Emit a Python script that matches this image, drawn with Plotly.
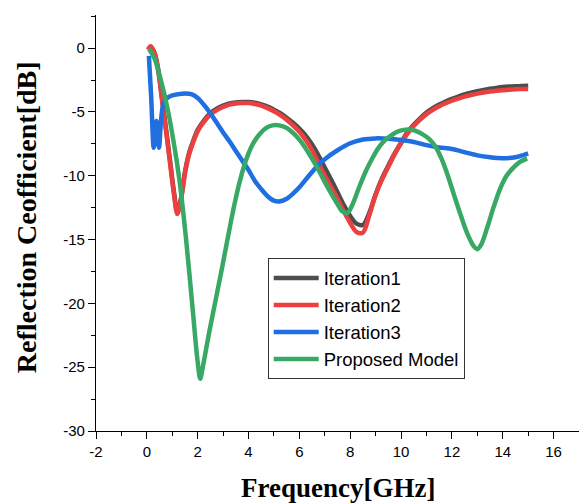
import plotly.graph_objects as go

# ---- data ----
x_it1 = [0.05, 0.15, 0.3, 0.45, 0.6, 0.75, 0.9, 1.05, 1.2, 1.35, 1.5, 1.65, 1.8, 2.0, 2.25, 2.5, 2.75, 3.0, 3.25, 3.5, 3.75, 4.0, 4.25, 4.5, 4.75, 5.0, 5.25, 5.5, 5.75, 6.0, 6.25, 6.5, 6.75, 7.0, 7.25, 7.5, 7.75, 8.0, 8.25, 8.5, 8.75, 9.0, 9.25, 9.5, 9.75, 10.0, 10.25, 10.5, 10.75, 11.0, 11.25, 11.5, 11.75, 12.0, 12.25, 12.5, 12.75, 13.0, 13.25, 13.5, 13.75, 14.0, 14.25, 14.5, 14.75, 15.0]
y_it1 = [-0.1, 0.1, -0.35, -1.7, -3.95, -6.25, -8.6, -11.0, -12.8, -11.7, -9.7, -8.3, -7.4, -6.4, -5.65, -5.1, -4.75, -4.5, -4.33, -4.25, -4.22, -4.22, -4.28, -4.4, -4.58, -4.82, -5.1, -5.45, -5.85, -6.3, -6.85, -7.55, -8.4, -9.35, -10.3, -11.3, -12.3, -13.15, -13.75, -13.85, -12.9, -11.45, -10.2, -9.2, -8.25, -7.4, -6.6, -6.0, -5.5, -5.05, -4.7, -4.42, -4.18, -3.97, -3.79, -3.63, -3.49, -3.37, -3.27, -3.18, -3.11, -3.05, -3.01, -2.98, -2.96, -2.95]

x_it2 = [0.05, 0.15, 0.3, 0.45, 0.6, 0.75, 0.9, 1.05, 1.2, 1.35, 1.5, 1.65, 1.8, 2.0, 2.25, 2.5, 2.75, 3.0, 3.25, 3.5, 3.75, 4.0, 4.25, 4.5, 4.75, 5.0, 5.25, 5.5, 5.75, 6.0, 6.25, 6.5, 6.75, 7.0, 7.25, 7.5, 7.75, 8.0, 8.25, 8.5, 8.75, 9.0, 9.25, 9.5, 9.75, 10.0, 10.25, 10.5, 10.75, 11.0, 11.25, 11.5, 11.75, 12.0, 12.25, 12.5, 12.75, 13.0, 13.25, 13.5, 13.75, 14.0, 14.25, 14.5, 14.75, 15.0]
y_it2 = [-0.1, 0.15, -0.4, -1.8, -4.1, -6.4, -8.8, -11.2, -13.0, -11.8, -9.8, -8.4, -7.5, -6.5, -5.75, -5.2, -4.85, -4.6, -4.42, -4.33, -4.3, -4.3, -4.38, -4.5, -4.7, -4.95, -5.25, -5.6, -6.05, -6.55, -7.2, -8.0, -9.0, -10.0, -10.9, -11.8, -12.8, -13.7, -14.4, -14.45, -13.1, -11.5, -10.3, -9.3, -8.3, -7.45, -6.7, -6.1, -5.6, -5.17, -4.83, -4.55, -4.32, -4.12, -3.95, -3.8, -3.67, -3.56, -3.47, -3.4, -3.34, -3.29, -3.25, -3.22, -3.2, -3.2]

x_it3 = [0.08, 0.17, 0.27, 0.33, 0.38, 0.43, 0.48, 0.56, 0.66, 0.8, 1.0, 1.25, 1.5, 1.75, 2.0, 2.25, 2.5, 2.75, 3.0, 3.25, 3.5, 3.75, 4.0, 4.25, 4.5, 4.75, 5.0, 5.25, 5.5, 5.75, 6.0, 6.25, 6.5, 6.75, 7.0, 7.5, 8.0, 8.5, 9.0, 9.5, 10.0, 10.5, 11.0, 11.5, 12.0, 12.5, 13.0, 13.5, 14.0, 14.5, 15.0]
y_it3 = [-0.6, -3.8, -7.8, -6.8, -5.7, -6.8, -7.8, -5.6, -4.3, -3.9, -3.7, -3.6, -3.55, -3.6, -3.9, -4.45, -5.1, -5.85, -6.6, -7.3, -8.05, -8.8, -9.55, -10.4, -11.05, -11.6, -11.95, -12.0, -11.8, -11.4, -10.9, -10.3, -9.7, -9.15, -8.7, -8.0, -7.45, -7.15, -7.07, -7.1, -7.2, -7.35, -7.6, -7.78, -7.9, -8.15, -8.4, -8.55, -8.62, -8.55, -8.25]

x_prop = [0.08, 0.3, 0.55, 0.8, 1.05, 1.3, 1.55, 1.8, 2.0, 2.1, 2.2, 2.45, 2.7, 2.95, 3.2, 3.45, 3.7, 3.95, 4.2, 4.45, 4.7, 4.95, 5.2, 5.45, 5.7, 5.95, 6.2, 6.45, 6.7, 6.95, 7.2, 7.45, 7.7, 7.9, 8.1, 8.35, 8.6, 8.85, 9.1, 9.35, 9.6, 9.85, 10.1, 10.35, 10.6, 10.85, 11.1, 11.35, 11.6, 11.85, 12.1, 12.35, 12.6, 12.85, 13.0, 13.15, 13.4, 13.65, 13.9, 14.15, 14.4, 14.65, 14.96]
y_prop = [-0.05, -0.8, -2.5, -4.6, -7.3, -10.6, -15.1, -20.4, -24.6, -25.9, -25.0, -22.3, -19.8, -17.3, -14.7, -12.2, -10.1, -8.5, -7.4, -6.7, -6.25, -6.05, -6.05, -6.2, -6.55, -7.05, -7.7, -8.5, -9.35, -10.3, -11.2, -12.05, -12.8, -12.9, -12.2, -10.9, -9.7, -8.7, -7.85, -7.25, -6.85, -6.55, -6.4, -6.38, -6.5, -6.75, -7.1, -7.7, -8.7, -10.05, -11.6, -13.1, -14.5, -15.5, -15.75, -15.4, -14.0, -12.4, -11.0, -10.0, -9.4, -8.95, -8.64]

names = ["Iteration1", "Iteration2", "Iteration3", "Proposed Model"]
colors = ["#4d4d4d", "#ec4040", "#1f6fe0", "#38a865"]

x_tick_vals = [-2, 0, 2, 4, 6, 8, 10, 12, 14, 16]
x_tick_text = ["-2", "0", "2", "4", "6", "8", "10", "12", "14", "16"]
y_tick_vals = [-30, -25, -20, -15, -10, -5, 0]
y_tick_text = ["-30", "-25", "-20", "-15", "-10", "-5", "0"]

fig = go.Figure()
for xs, ys, nm, col in zip([x_it1, x_it2, x_it3, x_prop],
                           [y_it1, y_it2, y_it3, y_prop], names, colors):
    fig.add_trace(go.Scatter(x=xs, y=ys, name=nm, mode="lines",
                             line=dict(color=col, width=4.5, shape="spline", smoothing=0.9)))

axis_common = dict(showline=True, linecolor="black", linewidth=1.3, showgrid=False,
                   zeroline=False, ticks="outside", ticklen=7, tickwidth=1.3, tickcolor="black",
                   tickfont=dict(family="Arial", size=15, color="black"))

fig.update_xaxes(range=[-2, 17], tickvals=x_tick_vals, ticktext=x_tick_text,
                 minor=dict(dtick=1, tick0=-2, ticks="outside", ticklen=4, tickwidth=1.3, tickcolor="black"),
                 **axis_common)
fig.update_yaxes(range=[-30, 2.6], tickvals=y_tick_vals, ticktext=y_tick_text,
                 minor=dict(dtick=2.5, tick0=-30, ticks="outside", ticklen=4, tickwidth=1.3, tickcolor="black"),
                 **axis_common)

fig.add_annotation(text="<b>Frequency[GHz]</b>", xref="paper", yref="paper",
                   x=0.5, y=-0.136, xanchor="center", yanchor="middle", showarrow=False,
                   font=dict(family="Liberation Serif", size=27, color="black"))
fig.add_annotation(text="<b>Reflection Ceofficient[dB]</b>", xref="paper", yref="paper",
                   x=-0.144, y=0.515, xanchor="center", yanchor="middle", showarrow=False,
                   textangle=-90,
                   font=dict(family="Liberation Serif", size=28, color="black"))

fig.update_layout(
    width=579, height=504,
    margin=dict(l=96, r=0, t=15, b=73),
    plot_bgcolor="white", paper_bgcolor="white",
    legend=dict(x=0.3555, y=0.415, xanchor="left", yanchor="top",
                font=dict(family="Arial", size=18.5, color="black"),
                bgcolor="white", bordercolor="#333333", borderwidth=1,
                itemwidth=45, tracegroupgap=0),
)

fig.write_html("out.html")
